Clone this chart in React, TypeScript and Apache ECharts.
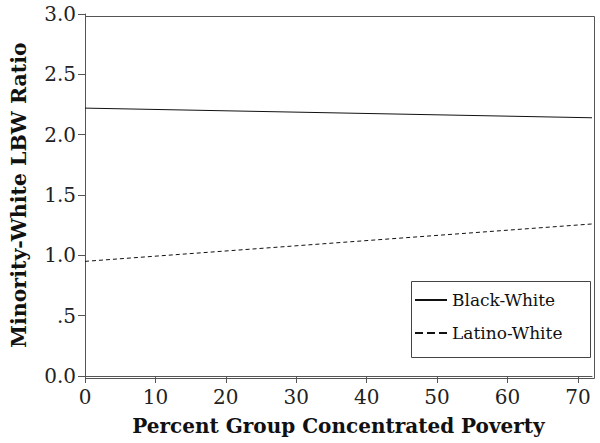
import React, { useEffect, useRef } from "react";
import * as echarts from "echarts";

const xValues = [0, 72];
const blackWhite = [2.22, 2.14];
const latinoWhite = [0.95, 1.26];
const yTickLabels: Record<string, string> = {
  "0": "0.0",
  "0.5": ".5",
  "1": "1.0",
  "1.5": "1.5",
  "2": "2.0",
  "2.5": "2.5",
  "3": "3.0",
};

const FONT = "DejaVu Serif";
const SOLID_ICON = "path://M0 0H32V2H0Z";
const DASH_ICON = "path://M0 0H8V2H0Z M12 0H20V2H12Z M24 0H32V2H24Z";

export default function App() {
  const ref = useRef<HTMLDivElement>(null);
  useEffect(() => {
    document.body.style.margin = "0";
    const chart = echarts.init(ref.current!, null, { renderer: "svg" });
    const legendBase = {
      orient: "vertical",
      left: 415,
      padding: 0,
      itemWidth: 32,
      itemHeight: 2,
      itemGap: 5,
      textStyle: { fontFamily: FONT, fontSize: 17, color: "#111", lineHeight: 20 },
    };
    chart.setOption({
      animation: false,
      backgroundColor: "#ffffff",
      textStyle: { fontFamily: FONT },
      grid: { left: 83, right: 8, top: 14, bottom: 67 },
      legend: [
        { ...legendBase, top: 290, data: [{ name: "Black-White", icon: SOLID_ICON }] },
        { ...legendBase, top: 323, data: [{ name: "Latino-White", icon: DASH_ICON }] },
      ],
      xAxis: {
        type: "value",
        min: 0,
        max: 72,
        interval: 10,
        name: "Percent Group Concentrated Poverty",
        nameLocation: "middle",
        nameGap: 40,
        nameTextStyle: { fontFamily: FONT, fontSize: 20, fontWeight: "bold", color: "#111" },
        axisLine: { show: true, lineStyle: { color: "#555", width: 1 } },
        axisTick: { show: true, length: 7, lineStyle: { color: "#555" } },
        axisLabel: {
          fontFamily: FONT,
          fontSize: 20,
          color: "#222",
          margin: 11,
          showMaxLabel: false,
        },
        splitLine: { show: false },
      },
      yAxis: {
        type: "value",
        min: 0,
        max: 3,
        interval: 0.5,
        name: "Minority-White LBW Ratio",
        nameLocation: "middle",
        nameGap: 56,
        nameTextStyle: { fontFamily: FONT, fontSize: 20.5, fontWeight: "bold", color: "#111" },
        axisLine: { show: true, lineStyle: { color: "#555", width: 1 } },
        axisTick: { show: true, length: 7, lineStyle: { color: "#555" } },
        axisLabel: {
          fontFamily: FONT,
          fontSize: 20,
          color: "#222",
          margin: 9,
          formatter: (v: number) => yTickLabels[String(v)] ?? String(v),
        },
        splitLine: { show: false },
      },
      graphic: [
        {
          type: "rect",
          left: 83,
          top: 14,
          shape: { width: 509, height: 362 },
          style: { fill: "none", stroke: "#555", lineWidth: 1 },
          silent: true,
          z: 0,
        },
        {
          type: "rect",
          left: 411,
          top: 281,
          shape: { width: 179, height: 76 },
          style: { fill: "#fff", stroke: "#444", lineWidth: 1 },
          silent: true,
          z: 1,
        },
      ],
      series: [
        {
          name: "Black-White",
          type: "line",
          symbol: "none",
          data: xValues.map((x, i) => [x, blackWhite[i]]),
          lineStyle: { color: "#111", width: 1, type: "solid" },
          itemStyle: { color: "#111" },
        },
        {
          name: "Latino-White",
          type: "line",
          symbol: "none",
          data: xValues.map((x, i) => [x, latinoWhite[i]]),
          lineStyle: { color: "#111", width: 1, type: [4, 3] },
          itemStyle: { color: "#111" },
        },
      ],
    });
    return () => chart.dispose();
  }, []);
  return <div ref={ref} style={{ position: "absolute", left: 0, top: 0, width: 600, height: 443 }} />;
}
